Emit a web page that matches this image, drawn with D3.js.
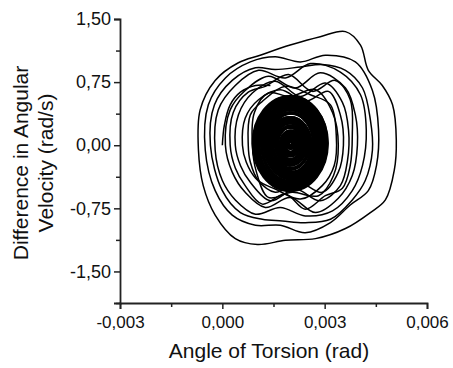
<!DOCTYPE html>
<html>
<head>
<meta charset="utf-8">
<script src="https://cdnjs.cloudflare.com/ajax/libs/d3/7.8.5/d3.min.js"></script>
<style>
    body { margin: 0; background: #fff; }
    text { font-family: "Liberation Sans", Arial, sans-serif; fill: #111; }
</style>
</head>
<body>
<div id="chart"></div>
<script>
    // angle of torsion (rad) vs difference in angular velocity (rad/s)
    let xTicks = [-0.003, 0.000, 0.003, 0.006];
    let xMinor = [-0.0015, 0.0015, 0.0045];
    let yTicks = [-1.50, -0.75, 0.00, 0.75, 1.50];
    let yMinor = [-1.875, -1.125, -0.375, 0.375, 1.125];

    // start of the trajectory (open)
    let startArc = [[0, 0], [0.00006, 0.24], [0.00023, 0.48], [0.00053, 0.63], [0.00097, 0.71], [0.00141, 0.71]];

    // outer loops of the trajectory
    let loop1 = [[-0.00070, -0.06], [-0.00065, 0.42], [-0.00021, 0.77], [0.00047, 0.98], [0.00111, 1.07], [0.00199, 1.19],
        [0.00287, 1.29], [0.00361, 1.35], [0.00405, 1.19], [0.00428, 0.89], [0.00469, 0.71], [0.00499, 0.48],
        [0.00510, 0.06], [0.00504, -0.30], [0.00478, -0.65], [0.00434, -0.80], [0.00361, -0.99], [0.00273, -1.11],
        [0.00185, -1.13], [0.00103, -1.18], [0.00038, -1.11], [-0.00021, -0.83], [-0.00056, -0.48]];
    let loop2 = [[-0.00050, -0.06], [-0.00041, 0.48], [0.00009, 0.80], [0.00082, 0.99], [0.00155, 1.05], [0.00229, 0.99],
        [0.00302, 1.07], [0.00390, 0.99], [0.00440, 0.65], [0.00458, 0.18], [0.00452, -0.24], [0.00428, -0.54],
        [0.00375, -0.71], [0.00317, -0.92], [0.00243, -1.04], [0.00170, -0.95], [0.00097, -0.95], [0.00029, -0.83],
        [-0.00021, -0.54]];
    let loop3 = [[-0.00021, -0.06], [-0.00012, 0.42], [0.00038, 0.71], [0.00106, 0.89], [0.00185, 0.80], [0.00258, 0.97],
        [0.00346, 0.87], [0.00405, 0.60], [0.00422, 0.18], [0.00411, -0.24], [0.00381, -0.54], [0.00323, -0.78],
        [0.00243, -0.84], [0.00170, -0.74], [0.00097, -0.82], [0.00038, -0.65], [0, -0.42]];
    let loop4 = [[0.00009, 0], [0.00023, 0.42], [0.00067, 0.65], [0.00135, 0.82], [0.00214, 0.68], [0.00287, 0.86],
        [0.00361, 0.68], [0.00390, 0.36], [0.00396, 0], [0.00381, -0.36], [0.00340, -0.63], [0.00273, -0.80],
        [0.00199, -0.62], [0.00126, -0.74], [0.00067, -0.56], [0.00029, -0.32]];
    let loop5 = [[0.00038, 0], [0.00047, 0.36], [0.00088, 0.62], [0.00155, 0.76], [0.00229, 0.58], [0.00302, 0.74],
        [0.00352, 0.51], [0.00370, 0.18], [0.00367, -0.18], [0.00346, -0.48], [0.00287, -0.66], [0.00214, -0.52],
        [0.00141, -0.66], [0.00082, -0.44], [0.00053, -0.24]];
    let loop6 = [[0.00059, 0], [0.00067, 0.32], [0.00106, 0.54], [0.00170, 0.66], [0.00243, 0.52], [0.00311, 0.64],
        [0.00346, 0.36], [0.00355, 0], [0.00340, -0.32], [0.00293, -0.56], [0.00223, -0.44], [0.00155, -0.56],
        [0.00097, -0.39], [0.00070, -0.20]];
    let loop7 = [[0.00076, 0], [0.00082, 0.36], [0.00117, 0.52], [0.00185, 0.70], [0.00258, 0.60], [0.00317, 0.48],
        [0.00334, 0.12], [0.00328, -0.24], [0.00293, -0.48], [0.00229, -0.64], [0.00155, -0.52], [0.00106, -0.42],
        [0.00082, -0.20]];
    let loop8 = [[-0.00035, 0], [-0.00023, 0.48], [0.00029, 0.77], [0.00097, 0.92], [0.00155, 0.90], [0.00229, 0.93],
        [0.00293, 0.96], [0.00361, 0.89], [0.00411, 0.68], [0.00434, 0.30], [0.00440, -0.06], [0.00419, -0.42],
        [0.00381, -0.65], [0.00317, -0.88], [0.00243, -0.92], [0.00176, -0.90], [0.00117, -0.88], [0.00053, -0.80],
        [0, -0.54]];
    let loop9 = [[0.00023, 0], [0.00032, 0.39], [0.00076, 0.63], [0.00126, 0.70], [0.00194, 0.84], [0.00264, 0.64],
        [0.00331, 0.77], [0.00375, 0.54], [0.00381, 0.12], [0.00375, -0.24], [0.00352, -0.51], [0.00302, -0.60],
        [0.00243, -0.76], [0.00185, -0.58], [0.00117, -0.70], [0.00067, -0.48], [0.00038, -0.27]];
    let loop10 = [[0.00088, 0], [0.00094, 0.39], [0.00135, 0.62], [0.00199, 0.58], [0.00273, 0.66], [0.00323, 0.39],
        [0.00340, 0], [0.00326, -0.36], [0.00282, -0.60], [0.00205, -0.56], [0.00135, -0.62], [0.00100, -0.32]];
    let outerLoops = [loop1, loop2, loop3, loop4, loop5, loop6, loop7, loop8, loop9, loop10];

    // dense core: loop centres and half-widths
    let coreX = [0.00199, 0.00201, 0.00197, 0.00200, 0.00202, 0.00198, 0.00199, 0.00203, 0.00200, 0.00197,
        0.00201, 0.00199, 0.00202, 0.00198, 0.00200, 0.00203, 0.00199, 0.00197, 0.00201, 0.00200,
        0.00198, 0.00202, 0.00199, 0.00201, 0.00200, 0.00198, 0.00202, 0.00199, 0.00200, 0.00201,
        0.00199, 0.00200, 0.00201, 0.00200, 0.00200, 0.00200, 0.00200];
    let coreY = [0.02, 0.03, 0.01, 0.02, 0.04, 0.02, 0.00, 0.03, 0.02, 0.01,
        0.03, 0.02, 0.04, 0.01, 0.02, 0.03, 0.00, 0.02, 0.03, 0.01,
        0.02, 0.04, 0.02, 0.01, 0.03, 0.02, 0.00, 0.02, 0.03, 0.02,
        0.01, 0.02, 0.03, 0.02, 0.02, 0.02, 0.02];
    let coreRx = [0.00109, 0.00106, 0.00103, 0.00100, 0.00097, 0.00094, 0.00091, 0.00088, 0.00085, 0.00082,
        0.00079, 0.00076, 0.00073, 0.00070, 0.00067, 0.00065, 0.00062, 0.00059, 0.00056, 0.00053,
        0.00050, 0.00047, 0.00044, 0.00041, 0.00038, 0.00035, 0.00032, 0.00029, 0.00026, 0.00023,
        0.00021, 0.00018, 0.00015, 0.00012, 0.00009, 0.00006, 0.00003];
    let coreRy = [0.56, 0.55, 0.54, 0.52, 0.51, 0.50, 0.49, 0.48, 0.45, 0.44,
        0.43, 0.40, 0.39, 0.38, 0.36, 0.35, 0.33, 0.31, 0.30, 0.29,
        0.26, 0.25, 0.24, 0.21, 0.20, 0.19, 0.17, 0.15, 0.14, 0.12,
        0.11, 0.10, 0.07, 0.06, 0.045, 0.03, 0.015];

    let width = 453, height = 368;
    let margin = { left: 120, right: 26, top: 19, bottom: 65 };

    let svg = d3.select("#chart").append("svg")
        .attr("width", width)
        .attr("height", height);

    let x = d3.scaleLinear().domain([-0.003, 0.006]).range([margin.left, width - margin.right]);
    let y = d3.scaleLinear().domain([-1.875, 1.5]).range([height - margin.bottom, margin.top]);

    let loc = d3.formatLocale({ decimal: ",", thousands: ".", grouping: [3], currency: ["", ""], minus: "-" });

    // trajectory
    let plot = svg.append("g")
        .attr("fill", "none")
        .attr("stroke", "#000")
        .attr("stroke-width", 1.5);

    let closedLine = d3.line().x(d => x(d[0])).y(d => y(d[1])).curve(d3.curveCatmullRomClosed);
    let openLine = d3.line().x(d => x(d[0])).y(d => y(d[1])).curve(d3.curveCatmullRom);

    plot.selectAll("path.loop")
        .data(outerLoops)
        .enter().append("path")
        .attr("class", "loop")
        .attr("d", closedLine);

    plot.append("path").attr("d", openLine(startArc));

    plot.selectAll("ellipse")
        .data(coreX)
        .enter().append("ellipse")
        .attr("stroke-width", 3)
        .attr("cx", d => x(d))
        .attr("cy", (d, i) => y(coreY[i]))
        .attr("rx", (d, i) => x(d + coreRx[i]) - x(d))
        .attr("ry", (d, i) => y(coreY[i]) - y(coreY[i] + coreRy[i]));

    // axes
    svg.append("g")
        .attr("transform", "translate(0," + y(-1.875) + ")")
        .call(d3.axisBottom(x).tickValues(xTicks).tickSize(6).tickPadding(7).tickFormat(loc.format(".3f")))
        .selectAll(".tick text").attr("font-size", 17);
    svg.append("g")
        .attr("transform", "translate(0," + y(-1.875) + ")")
        .call(d3.axisBottom(x).tickValues(xMinor).tickSize(4).tickFormat(""))
        .select(".domain").remove();

    svg.append("g")
        .attr("transform", "translate(" + x(-0.003) + ",0)")
        .call(d3.axisLeft(y).tickValues(yTicks).tickSize(6).tickPadding(3).tickFormat(loc.format(".2f")))
        .selectAll(".tick text").attr("font-size", 18);
    svg.append("g")
        .attr("transform", "translate(" + x(-0.003) + ",0)")
        .call(d3.axisLeft(y).tickValues(yMinor).tickSize(4).tickFormat(""))
        .select(".domain").remove();

    svg.selectAll(".domain").attr("stroke", "#222").attr("stroke-width", 1.8);
    svg.selectAll(".tick line").attr("stroke", "#222").attr("stroke-width", 1.5);
    svg.selectAll(".tick text").attr("font-family", "Liberation Sans, Arial, sans-serif").attr("fill", "#111");

    // titles
    svg.append("text")
        .attr("x", 269)
        .attr("y", 358)
        .attr("text-anchor", "middle")
        .attr("font-size", 21)
        .text("Angle of Torsion (rad)");

    let yTitle = svg.append("text")
        .attr("transform", "translate(0,163) rotate(-90)")
        .attr("text-anchor", "middle")
        .attr("font-size", 21);
    yTitle.append("tspan").attr("x", 0).attr("y", 28).text("Difference in Angular");
    yTitle.append("tspan").attr("x", 0).attr("y", 53).text("Velocity (rad/s)");
</script>
</body>
</html>
